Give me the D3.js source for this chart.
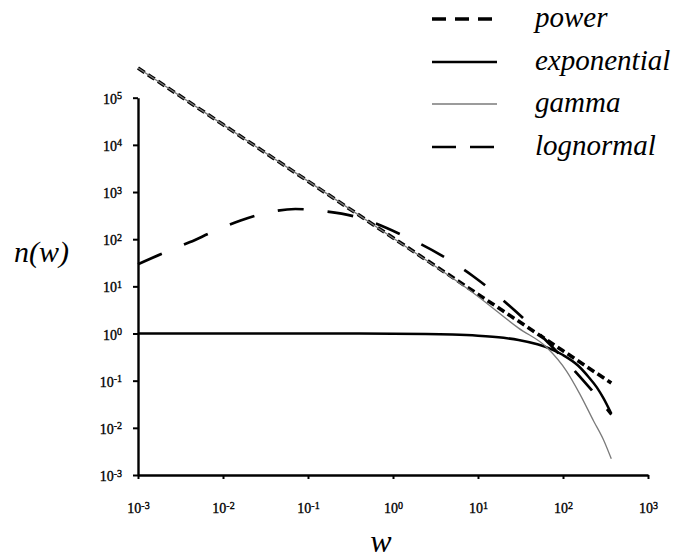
<!DOCTYPE html>
<html>
<head>
<meta charset="utf-8">
<script src="https://cdn.jsdelivr.net/npm/d3@7"></script>
<style>
html,body{margin:0;padding:0;background:#fff;}
svg{display:block;}
text{font-family:"Liberation Serif","DejaVu Serif",serif;fill:#000;}
</style>
</head>
<body>
<svg id="chart" width="692" height="560"></svg>
<script>
// ---- data ----
const xTickExps = [-3, -2, -1, 0, 1, 2, 3];
const yTickExps = [-3, -2, -1, 0, 1, 2, 3, 4, 5];

const powerW = [0.001, 0.01, 0.1, 1, 10, 100, 370];
const powerN = [426000, 26900, 1700, 107, 6.8, 0.43, 0.089];

const expW = [0.001, 0.01, 0.1, 1, 5, 10, 20, 30, 50, 70, 100, 150, 200, 250, 300, 370];
const expN = [1, 1, 1, 0.99, 0.95, 0.9, 0.81, 0.73, 0.59, 0.48, 0.35, 0.21, 0.12, 0.072, 0.042, 0.02];

const gammaW = [0.001, 0.01, 0.1, 1, 10, 30, 65, 110, 158, 229, 302, 370];
const gammaN = [426000, 26900, 1700, 106, 6.1, 1.3, 0.5, 0.16, 0.052, 0.014, 0.0054, 0.0022];

const lognW = [0.001, 0.002, 0.0041, 0.0081, 0.0158, 0.033, 0.071, 0.145, 0.34, 1.2, 8.7, 27.5, 138, 219, 370];
const lognN = [29.5, 51, 87, 151, 245, 363, 437, 398, 309, 129, 16.6, 3.0, 0.16, 0.062, 0.019];

const seriesNames = ["power", "exponential", "gamma", "lognormal"];

// ---- layout ----
const svg = d3.select("#chart");
const x = d3.scaleLog().domain([1e-3, 1e3]).range([138, 648]);
const y = d3.scaleLog().domain([1e-3, 1e5]).range([475, 97.7]);

const styles = {
  power:       {stroke: "#000", width: 3.6, dash: "8,4"},
  exponential: {stroke: "#000", width: 2.5, dash: null},
  gamma:       {stroke: "#7a7a7a", width: 1.3, dash: null},
  lognormal:   {stroke: "#000", width: 2.7, dash: "26,24"}
};

// axes
const xAxis = d3.axisBottom(x).tickValues(xTickExps.map(e => Math.pow(10, e)))
  .tickSize(4).tickSizeOuter(0).tickFormat("");
const yAxis = d3.axisLeft(y).tickValues(yTickExps.map(e => Math.pow(10, e)))
  .tickSize(5).tickSizeOuter(0).tickFormat("");

const gx = svg.append("g").attr("transform", "translate(0,475)").call(xAxis);
const gy = svg.append("g").attr("transform", "translate(138,0)").call(yAxis);
[gx, gy].forEach(g => {
  g.select(".domain").attr("stroke", "#000").attr("stroke-width", 2.4);
  g.selectAll(".tick line").attr("stroke", "#000").attr("stroke-width", 2);
});

function powLabel(sel, exp) {
  sel.append("tspan").text("10");
  sel.append("tspan").attr("dy", "-0.45em").attr("font-size", "10px").text(String(exp));
}

gx.selectAll(".tick").each(function(d) {
  const t = d3.select(this).append("text")
    .attr("y", 38).attr("text-anchor", "middle")
    .attr("font-size", "14px").attr("fill", "#000")
    .attr("stroke", "#000").attr("stroke-width", 0.35);
  powLabel(t, Math.round(Math.log10(d)));
});
gy.selectAll(".tick").each(function(d) {
  const t = d3.select(this).append("text")
    .attr("x", -16).attr("dy", "0.4em").attr("text-anchor", "end")
    .attr("font-size", "14px").attr("fill", "#000")
    .attr("stroke", "#000").attr("stroke-width", 0.35);
  powLabel(t, Math.round(Math.log10(d)));
});

// axis titles
svg.append("text").attr("x", 14).attr("y", 262)
  .attr("font-size", "30px").attr("font-style", "italic").text("n(w)");
svg.append("text").attr("x", 381).attr("y", 552).attr("text-anchor", "middle")
  .attr("font-size", "32px").attr("font-style", "italic").text("w");

// lines
const line = d3.line().x(d => x(d[0])).y(d => y(d[1])).curve(d3.curveMonotoneX);
const data = {
  power: powerW.map((w, i) => [w, powerN[i]]),
  exponential: expW.map((w, i) => [w, expN[i]]),
  gamma: gammaW.map((w, i) => [w, gammaN[i]]),
  lognormal: lognW.map((w, i) => [w, lognN[i]])
};
["exponential", "lognormal", "power", "gamma"].forEach(k => {
  const s = styles[k];
  svg.append("path").datum(data[k]).attr("d", line)
    .attr("fill", "none").attr("stroke", s.stroke).attr("stroke-width", s.width)
    .attr("stroke-dasharray", s.dash);
});

// legend
const legRows = [27, 70, 112, 155];
seriesNames.forEach((k, i) => {
  const s = styles[k];
  const yy = legRows[i] - 8;
  svg.append("line").attr("x1", 432).attr("x2", 497).attr("y1", yy).attr("y2", yy)
    .attr("stroke", s.stroke).attr("stroke-width", s.width)
    .attr("stroke-dasharray", k === "lognormal" ? "24,14" : (k === "power" ? "14,9" : s.dash));
  svg.append("text").attr("x", 535).attr("y", legRows[i])
    .attr("font-size", "29px").attr("font-style", "italic").text(k);
});
</script>
</body>
</html>
